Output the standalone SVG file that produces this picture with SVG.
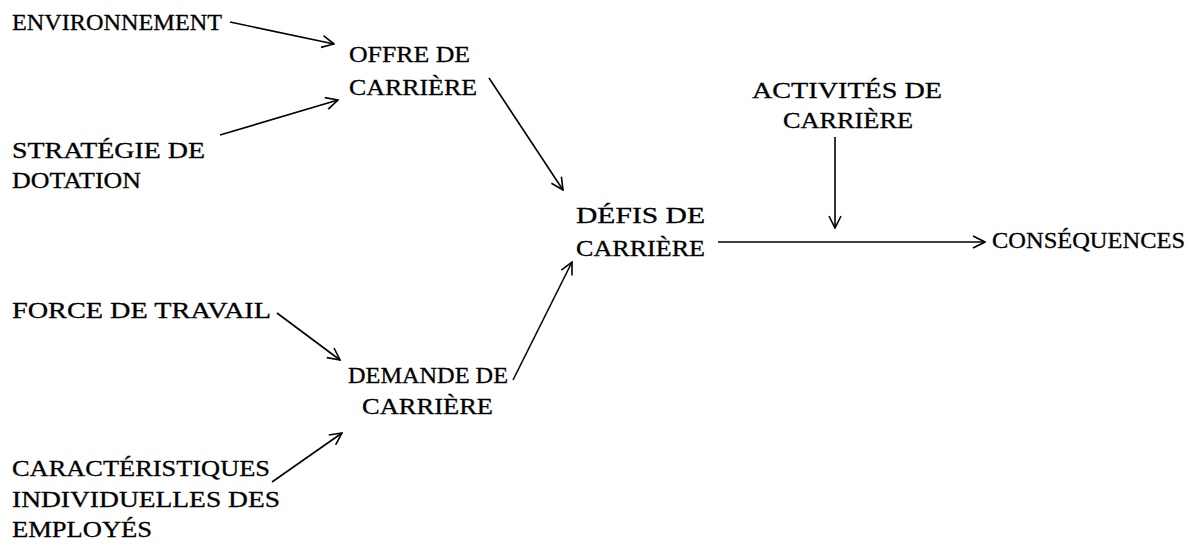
<svg xmlns="http://www.w3.org/2000/svg" width="1202" height="548" viewBox="0 0 1202 548">
<defs>
<style>
text{font-family:"Liberation Serif","DejaVu Serif",serif;font-size:24px;fill:#000;stroke:#000;stroke-width:0.3}
.c line{stroke:#000;stroke-width:1.6;fill:none;marker-end:url(#ah)}
</style>
<marker id="ah" viewBox="0 0 14 14" refX="13" refY="7" markerWidth="14" markerHeight="14" markerUnits="userSpaceOnUse" orient="auto">
<path d="M1,1 L13,7 L1,13" fill="none" stroke="#000" stroke-width="1.6"/>
</marker>
</defs>
<rect width="1202" height="548" fill="#fff"/>
<g id="environnement"><text x="12" y="30" textLength="210" lengthAdjust="spacingAndGlyphs">ENVIRONNEMENT</text></g>
<g id="offre"><text x="349" y="62" textLength="121" lengthAdjust="spacingAndGlyphs">OFFRE DE</text><text x="349" y="95" textLength="128" lengthAdjust="spacingAndGlyphs">CARRIÈRE</text></g>
<g id="strategie"><text x="12" y="158" textLength="193" lengthAdjust="spacingAndGlyphs">STRATÉGIE DE</text><text x="12" y="188" textLength="129" lengthAdjust="spacingAndGlyphs">DOTATION</text></g>
<g id="activites"><text x="752" y="98" textLength="190" lengthAdjust="spacingAndGlyphs">ACTIVITÉS DE</text><text x="783" y="128" textLength="130" lengthAdjust="spacingAndGlyphs">CARRIÈRE</text></g>
<g id="defis"><text x="576" y="223" textLength="129" lengthAdjust="spacingAndGlyphs">DÉFIS DE</text><text x="576" y="256" textLength="129" lengthAdjust="spacingAndGlyphs">CARRIÈRE</text></g>
<g id="consequences"><text x="992" y="248" textLength="193" lengthAdjust="spacingAndGlyphs">CONSÉQUENCES</text></g>
<g id="force"><text x="12" y="318" textLength="259" lengthAdjust="spacingAndGlyphs">FORCE DE TRAVAIL</text></g>
<g id="demande"><text x="348" y="383" textLength="160" lengthAdjust="spacingAndGlyphs">DEMANDE DE</text><text x="362" y="414" textLength="131" lengthAdjust="spacingAndGlyphs">CARRIÈRE</text></g>
<g id="caracteristiques"><text x="12" y="476" textLength="258" lengthAdjust="spacingAndGlyphs">CARACTÉRISTIQUES</text><text x="12" y="507" textLength="268" lengthAdjust="spacingAndGlyphs">INDIVIDUELLES DES</text><text x="12" y="537" textLength="140" lengthAdjust="spacingAndGlyphs">EMPLOYÉS</text></g>
<g id="connectors" class="c">
<line x1="230" y1="22" x2="334" y2="44"/>
<line x1="220" y1="135" x2="338" y2="100"/>
<line x1="489" y1="78" x2="563" y2="190"/>
<line x1="513" y1="380" x2="572" y2="262"/>
<line x1="277" y1="313" x2="340" y2="360"/>
<line x1="272" y1="482" x2="342" y2="433"/>
<line x1="835" y1="137" x2="835" y2="228"/>
<line x1="718" y1="242" x2="985" y2="242"/>
</g>
</svg>
